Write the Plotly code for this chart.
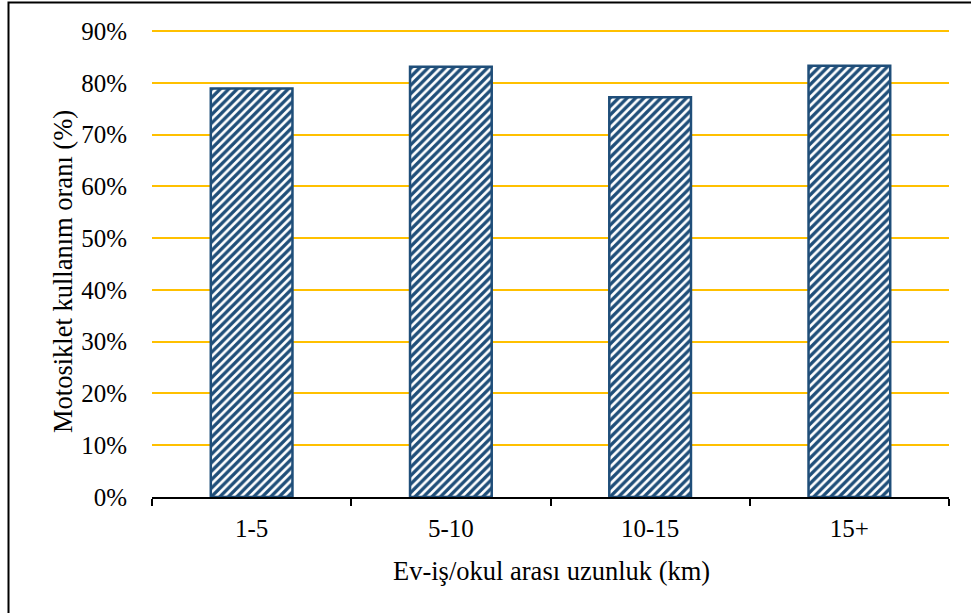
import plotly.graph_objects as go

categories = ["1-5", "5-10", "10-15", "15+"]
values = [78.9, 83.1, 77.2, 83.3]
y_ticks = [0, 10, 20, 30, 40, 50, 60, 70, 80, 90]
y_tick_labels = [f"{v}%" for v in y_ticks]
x_title = "Ev-iş/okul arası uzunluk (km)"
y_title = "Motosiklet kullanım oranı (%)"

FONT = "Liberation Serif, Times New Roman, serif"
BLUE = "#1F4E79"

fig = go.Figure(go.Bar(
    x=categories,
    y=values,
    width=0.41,
    marker=dict(
        color="white",
        line=dict(color=BLUE, width=2.5),
        pattern=dict(shape="/", fgcolor=BLUE, bgcolor="white", size=6,
                     solidity=0.55, fillmode="replace", fgopacity=1),
    ),
))

W, H = 971, 613
L, T = 152, 30
R = W - 949
B = H - 497
pw, ph = W - L - R, H - T - B

fig.update_layout(
    width=W, height=H,
    margin=dict(l=L, r=R, t=T, b=B, autoexpand=False),
    paper_bgcolor="white", plot_bgcolor="white",
    font=dict(family=FONT, size=25, color="black"),
    showlegend=False,
    xaxis=dict(
        showline=True, linecolor="black", linewidth=1.5,
        ticks="outside", tickson="boundaries", ticklen=7, tickcolor="black", tickwidth=1.5,
        showgrid=False, ticklabelstandoff=8,
        automargin=False,
    ),
    yaxis=dict(
        range=[0, 90.2], tickvals=y_ticks, ticktext=y_tick_labels,
        showgrid=True, gridcolor="#FFC000", gridwidth=1.5,
        showline=False, ticks="", zeroline=False,
        ticklabelstandoff=24,
        automargin=False,
    ),
    annotations=[
        dict(text=x_title, xref="paper", yref="paper",
             x=(551 - L) / pw, y=-(571 - (H - B)) / ph,
             xanchor="center", yanchor="middle", showarrow=False,
             font=dict(size=26.5)),
        dict(text=y_title, xref="paper", yref="paper", textangle=-90,
             x=(63 - L) / pw, y=((H - B) - 272) / ph,
             xanchor="center", yanchor="middle", showarrow=False,
             font=dict(size=26.5)),
    ],
    shapes=[dict(
        type="rect", xref="paper", yref="paper",
        x0=(8.5 - L) / pw, x1=(990 - L) / pw,
        y0=-(640 - (H - B)) / ph, y1=1 + (T - 2.5) / ph,
        line=dict(color="black", width=2), fillcolor="rgba(0,0,0,0)", layer="below",
    )],
)

fig.write_html(
    "out.html",
    config={"displayModeBar": False},
    post_script="document.body.style.margin='0';document.body.style.overflow='hidden';",
)
